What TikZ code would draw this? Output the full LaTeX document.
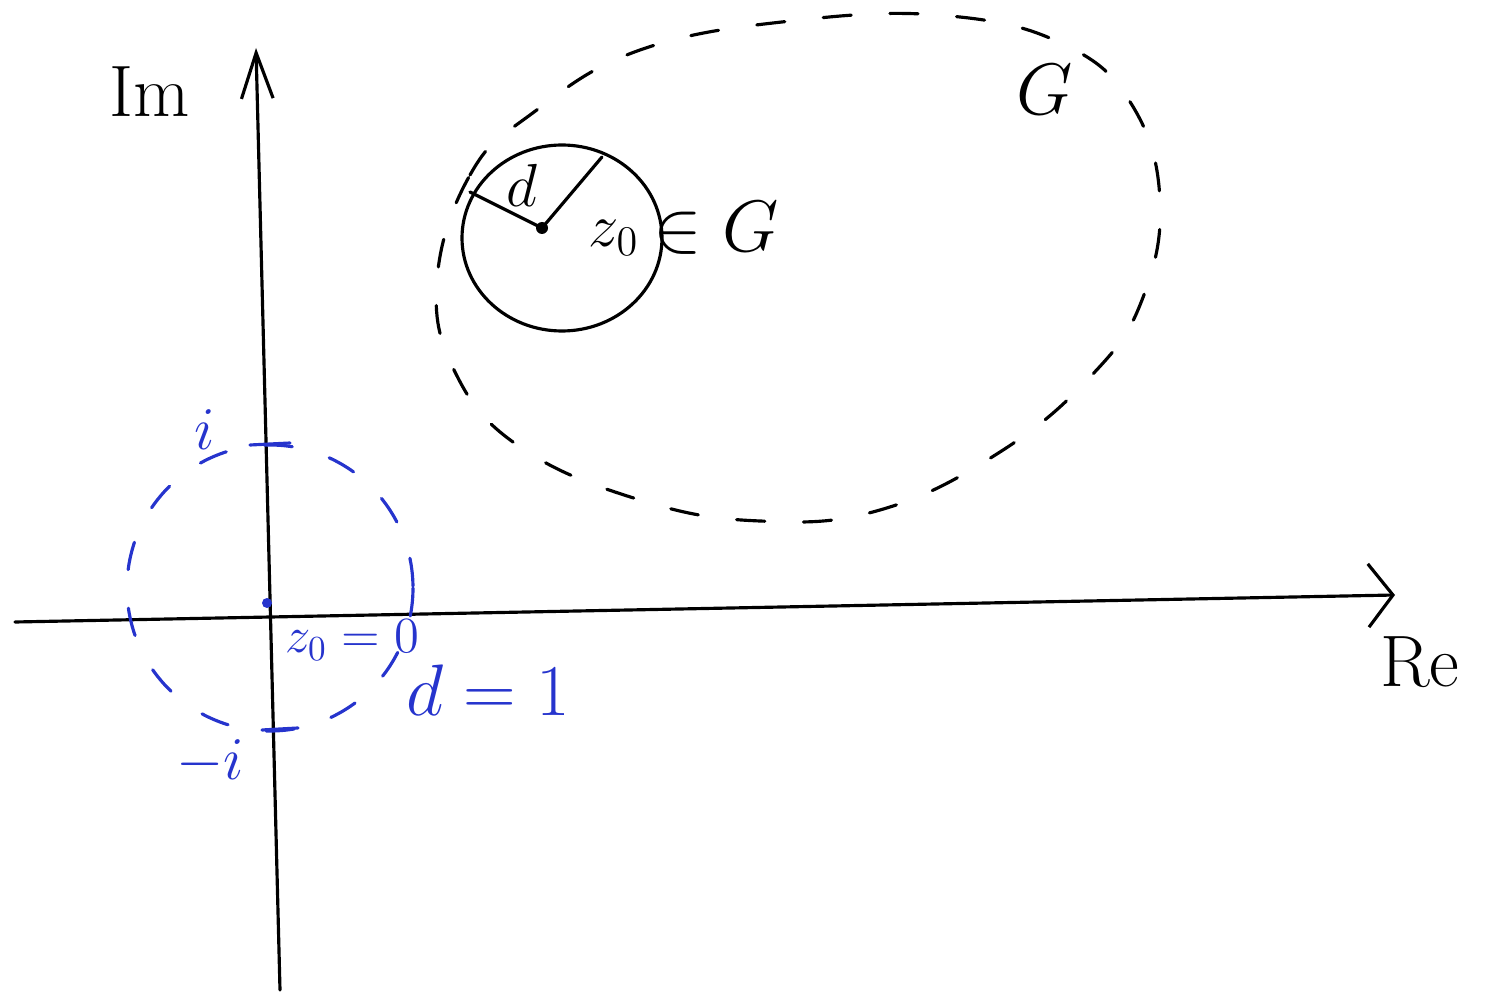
\documentclass[tikz,border=0pt]{standalone}
\usepackage{amsmath}
\usepackage{tikz}
\usetikzlibrary{arrows.meta}

\definecolor{penblue}{RGB}{38,52,205}

\begin{document}
\begin{tikzpicture}[x=0.01cm,y=-0.01cm,line cap=round,
    pen/.style={line width=0.9pt},
    dashpen/.style={pen,dash pattern=on 8pt off 11pt},
    lbl/.style={font=\huge,inner sep=0pt}]
  \useasboundingbox (0,0) rectangle (1508,997);
  % axes
  \coordinate (O) at (267,603);
  \coordinate (ImBot) at (280,990);
  \coordinate (ImTop) at (256,48);
  \coordinate (ReLeft) at (15,622);
  \coordinate (ReRight) at (1395,595);
  \draw[pen,-{Straight Barb[length=13pt,width=9pt]}] (ImBot) -- (ImTop);
  \draw[pen,-{Straight Barb[length=7pt,width=18pt]}] (ReLeft) -- (ReRight);
  \node[lbl] (im) at (150,92) {$\mathrm{Im}$};
  \node[lbl] (re) at (1420,662) {$\mathrm{Re}$};
  % region G
  \draw[dashpen] plot[smooth cycle,tension=0.7] coordinates {
    (437,280) (470,175) (530,115) (640,50) (800,20) (950,16)
    (1065,45) (1132,105) (1160,200) (1142,300) (1092,375)
    (1000,452) (880,510) (760,521) (640,500) (520,447) (455,372)};
  \node[lbl] (G) at (1045,90) {$G$};
  % disc around z0
  \coordinate (z0) at (542,228);
  \coordinate (r1) at (470,192);
  \coordinate (r2) at (602,157);
  \draw[pen] (562,238) ellipse [x radius=100,y radius=93];
  \draw[pen] (z0) -- (r1);
  \draw[pen] (z0) -- (r2);
  \fill (z0) circle (6);
  \node[lbl,font=\LARGE] (dlbl) at (522,185) {$d$};
  \node[lbl,font=\LARGE] (z0lbl) at (614,238) {$z_0$};
  \node[lbl] (inG) at (716,228) {$\in G$};
  % unit disc
  \begin{scope}[penblue]
    \draw[dashpen] (270,588) circle (143);
    \coordinate (tiA) at (250,445);
    \coordinate (tiB) at (290,443);
    \coordinate (tmA) at (262,730);
    \coordinate (tmB) at (298,728);
    \draw[pen] (tiA) -- (tiB);
    \draw[pen] (tmA) -- (tmB);
    \fill (O) circle (5);
    \node[lbl,font=\LARGE] (ilbl) at (205,430) {$i$};
    \node[lbl,font=\LARGE] (milbl) at (210,762) {$-i$};
    \node[lbl,font=\Large] (orig) at (352,640) {$z_0=0$};
    \node[lbl] (done) at (488,690) {$d=1$};
  \end{scope}
\end{tikzpicture}
\end{document}
